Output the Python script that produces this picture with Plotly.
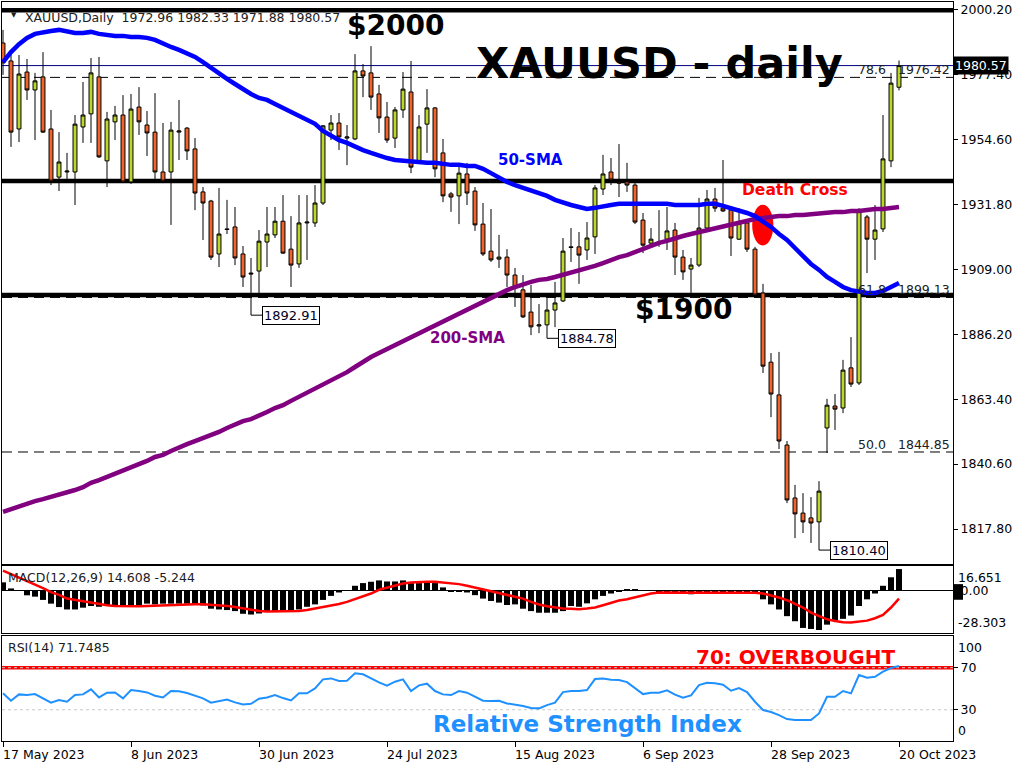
import plotly.graph_objects as go
import pandas as pd
import numpy as np

# ---------------- data ----------------
dates = pd.bdate_range("2023-05-17", "2023-10-20")  # 113 daily sessions
date_tick_idx = [0, 16, 32, 48, 64, 80, 96, 112]

opens = [1988.5, 1982.2, 1958.3, 1978.3, 1972.0, 1976.6, 1958.3, 1941.4, 1943.2, 1943.2,
         1959.0, 1963.6, 1976.6, 1947.1, 1960.8, 1963.2, 1939.7, 1966.0, 1959.7, 1957.2,
         1943.2, 1943.2, 1957.2, 1958.6, 1951.3, 1936.2, 1933.0, 1914.4, 1923.2, 1923.9,
         1914.4, 1907.7, 1908.4, 1918.6, 1921.1, 1925.9, 1916.1, 1910.9, 1925.3, 1925.3,
         1932.3, 1957.9, 1960.4, 1955.1, 1954.8, 1978.7, 1978.0, 1970.6, 1962.5, 1955.1,
         1965.0, 1971.3, 1946.7, 1960.0, 1965.7, 1949.9, 1935.5, 1934.8, 1942.5, 1936.5,
         1924.9, 1915.4, 1912.6, 1913.3, 1907.0, 1901.8, 1894.0, 1889.1, 1889.5, 1894.7,
         1897.9, 1916.9, 1916.9, 1915.8, 1920.4, 1937.2, 1943.2, 1939.7, 1939.7, 1938.6,
         1926.3, 1918.2, 1917.9, 1919.6, 1922.8, 1913.3, 1909.1, 1910.5, 1923.5, 1933.7,
         1930.5, 1929.8, 1919.6, 1925.3, 1916.1, 1900.7, 1876.4, 1864.9, 1847.3, 1828.7,
         1823.4, 1821.7, 1820.3, 1853.3, 1861.0, 1860.3, 1874.4, 1869.1, 1927.4, 1919.6,
         1923.2, 1947.1, 1972.96]
highs = [1993.1, 1984.3, 1984.3, 1982.9, 1978.0, 1985.3, 1965.0, 1957.2, 1949.9, 1963.2,
         1974.8, 1983.2, 1983.6, 1964.3, 1966.4, 1970.2, 1970.6, 1973.0, 1964.6, 1970.9,
         1960.4, 1960.8, 1968.5, 1959.0, 1955.1, 1937.9, 1933.4, 1937.6, 1933.4, 1930.9,
         1917.2, 1913.0, 1922.8, 1930.9, 1930.9, 1935.1, 1927.7, 1935.1, 1935.1, 1938.6,
         1959.7, 1963.2, 1963.9, 1959.7, 1984.6, 1981.1, 1987.4, 1973.8, 1967.8, 1966.0,
         1978.3, 1982.2, 1963.2, 1972.3, 1966.0, 1954.8, 1936.2, 1945.6, 1946.4, 1937.9,
         1932.3, 1930.2, 1921.1, 1916.1, 1909.5, 1907.0, 1903.5, 1896.8, 1898.9, 1904.6,
         1920.0, 1923.5, 1922.1, 1925.6, 1938.6, 1949.2, 1948.1, 1953.0, 1946.4, 1939.3,
         1928.8, 1923.5, 1929.8, 1930.9, 1925.3, 1915.8, 1913.0, 1934.1, 1936.9, 1937.6,
         1947.4, 1930.5, 1930.5, 1926.3, 1916.9, 1903.9, 1879.6, 1880.0, 1848.7, 1833.3,
         1830.4, 1829.0, 1834.6, 1863.5, 1865.2, 1877.2, 1885.2, 1930.5, 1928.1, 1931.6,
         1963.2, 1978.0, 1982.33]
lows = [1977.3, 1952.0, 1953.7, 1968.5, 1954.4, 1956.9, 1938.6, 1936.5, 1939.7, 1931.6,
        1953.4, 1953.4, 1948.1, 1937.9, 1954.4, 1939.3, 1939.0, 1956.2, 1948.8, 1939.7,
        1939.3, 1924.6, 1947.4, 1947.4, 1929.8, 1919.3, 1912.3, 1909.8, 1921.4, 1910.5,
        1902.8, 1892.91, 1900.7, 1909.8, 1920.0, 1914.4, 1902.8, 1909.5, 1912.3, 1923.9,
        1931.6, 1954.4, 1950.9, 1945.6, 1954.4, 1969.5, 1965.0, 1956.9, 1953.4, 1951.6,
        1962.2, 1942.8, 1946.4, 1949.9, 1941.4, 1932.6, 1929.2, 1924.9, 1931.6, 1922.5,
        1913.7, 1911.6, 1909.5, 1902.8, 1895.8, 1891.9, 1885.9, 1886.6, 1884.78, 1888.7,
        1897.5, 1911.6, 1903.9, 1912.3, 1914.4, 1935.1, 1938.6, 1934.4, 1936.2, 1924.9,
        1914.7, 1916.9, 1916.9, 1915.8, 1907.0, 1905.3, 1900.7, 1909.8, 1922.8, 1929.2,
        1929.2, 1913.7, 1919.3, 1915.1, 1899.3, 1872.6, 1857.1, 1845.9, 1826.9, 1814.6,
        1816.4, 1812.9, 1810.40, 1844.5, 1852.6, 1858.5, 1867.7, 1868.4, 1907.7, 1912.3,
        1922.1, 1944.9, 1971.88]
closes = [1981.5, 1957.2, 1977.6, 1972.0, 1975.2, 1957.2, 1940.0, 1946.7, 1943.5, 1960.0,
          1963.2, 1978.0, 1948.5, 1961.8, 1963.2, 1939.7, 1965.3, 1960.8, 1956.9, 1943.2,
          1940.0, 1957.9, 1957.6, 1950.6, 1935.8, 1932.3, 1913.3, 1921.4, 1923.0, 1913.0,
          1906.3, 1907.4, 1918.9, 1921.4, 1925.9, 1914.7, 1910.5, 1925.3, 1925.6, 1932.3,
          1959.4, 1960.4, 1955.5, 1955.5, 1978.7, 1976.9, 1969.5, 1962.2, 1954.4, 1965.0,
          1972.3, 1944.9, 1959.0, 1965.7, 1944.3, 1934.8, 1934.4, 1942.8, 1935.8, 1924.6,
          1914.4, 1912.3, 1913.3, 1907.0, 1902.5, 1892.3, 1888.8, 1889.5, 1894.7, 1897.2,
          1915.4, 1916.7, 1914.0, 1920.0, 1937.6, 1942.5, 1940.4, 1939.3, 1938.6, 1925.6,
          1917.5, 1919.6, 1918.6, 1922.5, 1913.3, 1908.1, 1910.5, 1923.5, 1933.7, 1930.5,
          1929.5, 1920.0, 1925.3, 1916.1, 1900.0, 1875.0, 1865.2, 1848.7, 1828.0, 1823.1,
          1820.3, 1819.9, 1831.1, 1861.3, 1859.9, 1873.6, 1868.7, 1929.8, 1919.6, 1922.8,
          1947.8, 1974.4, 1980.57]

sma50 = [1981.8, 1985.3, 1988.1, 1990.3, 1991.7, 1992.4, 1992.7, 1993.1, 1992.4, 1992.0,
         1992.0, 1992.4, 1991.7, 1991.3, 1991.0, 1991.0, 1990.6, 1990.6, 1990.3, 1989.6,
         1988.2, 1987.1, 1986.1, 1985.0, 1983.6, 1981.8, 1979.7, 1977.6, 1975.9, 1974.1,
         1972.3, 1970.6, 1969.2, 1968.5, 1967.1, 1965.7, 1964.3, 1962.5, 1961.1, 1960.1,
         1957.6, 1955.8, 1954.4, 1953.4, 1952.0, 1950.9, 1949.9, 1948.8, 1948.1, 1947.4,
         1947.1, 1946.7, 1946.7, 1946.4, 1946.4, 1946.0, 1945.7, 1945.7, 1945.3, 1945.3,
         1944.3, 1942.8, 1941.1, 1939.7, 1938.6, 1937.6, 1936.9, 1935.8, 1934.8, 1933.4,
         1932.3, 1931.6, 1930.9, 1930.2, 1930.6, 1931.3, 1931.6, 1932.0, 1932.0, 1932.0,
         1932.3, 1932.3, 1932.3, 1932.0, 1931.6, 1931.6, 1931.6, 1931.6, 1932.0, 1932.0,
         1931.3, 1930.6, 1929.9, 1928.8, 1927.7, 1926.0, 1923.9, 1921.4, 1919.3, 1916.5,
         1913.7, 1910.9, 1908.8, 1906.3, 1904.6, 1902.8, 1901.7, 1901.0, 1900.7, 1900.7,
         1901.4, 1902.8, 1904.2]
sma200 = [1823.8, 1824.8, 1825.9, 1826.6, 1827.6, 1828.3, 1829.0, 1830.1, 1830.8, 1831.5,
          1832.5, 1834.0, 1835.0, 1836.1, 1837.1, 1838.2, 1839.2, 1840.3, 1841.7, 1843.1,
          1843.8, 1845.2, 1846.6, 1847.6, 1848.7, 1849.8, 1850.5, 1851.9, 1853.3, 1854.7,
          1855.7, 1856.4, 1857.5, 1858.9, 1860.3, 1861.3, 1862.8, 1864.2, 1865.6, 1867.0,
          1868.4, 1869.8, 1871.2, 1872.9, 1874.7, 1876.5, 1878.2, 1879.6, 1881.0, 1882.4,
          1883.8, 1884.9, 1886.6, 1888.0, 1889.4, 1890.9, 1892.3, 1893.7, 1895.1, 1896.5,
          1897.9, 1898.9, 1900.3, 1901.7, 1902.8, 1903.9, 1904.6, 1905.3, 1905.6, 1906.3,
          1907.0, 1907.7, 1908.4, 1909.5, 1910.2, 1911.2, 1912.3, 1913.3, 1914.0, 1915.1,
          1916.1, 1917.2, 1918.3, 1919.0, 1920.0, 1920.7, 1921.4, 1922.1, 1922.8, 1923.5,
          1924.2, 1924.9, 1925.6, 1926.3, 1926.7, 1927.0, 1927.4, 1927.7, 1927.7, 1928.1,
          1928.1, 1928.4, 1928.8, 1928.8, 1929.1, 1929.1, 1929.5, 1929.5, 1929.9, 1930.2,
          1930.2, 1930.6, 1930.9]

macd_hist = [5.7, 1.6, 0.0, -3.0, -3.9, -6.1, -8.6, -10.9, -12.5, -12.5,
             -11.3, -10.2, -10.7, -10.2, -10.2, -10.7, -10.2, -9.8, -8.6, -9.1,
             -8.6, -8.6, -8.6, -8.6, -9.1, -9.8, -12.0, -12.5, -12.9, -13.6,
             -15.4, -15.9, -15.2, -13.6, -13.6, -13.6, -13.6, -12.5, -10.7, -9.1,
             -6.1, -3.4, -1.1, 0.3, 3.4, 5.2, 6.1, 7.0, 6.3, 6.3,
             7.0, 5.2, 5.2, 5.7, 5.2, 2.3, -0.3, -0.3, -1.1, -2.9,
             -5.2, -6.8, -7.9, -9.5, -9.1, -12.0, -13.6, -14.7, -14.7, -14.7,
             -13.6, -10.2, -10.7, -8.4, -5.7, -3.4, -1.8, -0.7, 1.1, 1.1,
             0.3, 0.3, -0.3, -0.5, -1.6, -1.6, -2.3, -1.1, -0.7, -0.3,
             -0.3, -0.5, -0.5, -0.7, -1.1, -5.7, -9.1, -12.5, -17.0, -20.4,
             -24.9, -25.6, -26.3, -22.7, -19.7, -18.8, -16.6, -10.2, -5.7, -1.8,
             3.4, 9.1, 14.608]
macd_signal = [13.5, 11.2, 9.0, 6.5, 4.0, 1.8, -0.9, -2.7, -5.2, -6.1,
               -7.2, -8.1, -9.0, -9.7, -10.1, -10.3, -10.6, -10.3, -10.1, -9.9,
               -9.7, -9.2, -9.0, -9.0, -9.0, -9.0, -9.2, -9.4, -10.1, -10.8,
               -11.7, -12.8, -13.5, -13.9, -13.9, -13.9, -13.9, -13.5, -12.8, -11.9,
               -11.0, -9.9, -8.8, -7.4, -5.6, -3.8, -1.8, 0.7, 2.2, 3.8,
               4.9, 5.6, 6.1, 6.1, 6.1, 5.6, 5.2, 4.5, 3.4, 2.2,
               1.1, -0.2, -1.3, -2.7, -3.8, -5.2, -7.4, -9.2, -10.3, -11.2,
               -11.9, -12.1, -12.4, -11.9, -11.2, -9.7, -7.9, -6.5, -5.6, -4.3,
               -2.7, -1.8, -1.1, -1.1, -1.1, -1.1, -1.1, -1.1, -1.1, -1.1,
               -1.1, -1.1, -1.1, -1.1, -1.3, -1.8, -2.9, -4.5, -6.3, -8.5,
               -11.2, -14.6, -16.8, -19.1, -20.2, -21.1, -21.3, -20.9, -20.0, -18.4,
               -16.2, -11.2, -5.244]
macd_range = [-28.303, 16.651]

rsi = [45.6, 38.6, 44.6, 44.0, 44.9, 40.8, 36.7, 39.2, 37.6, 44.0,
       44.6, 49.4, 41.7, 46.2, 46.5, 40.8, 48.7, 47.8, 46.5, 43.3,
       41.7, 47.8, 47.5, 45.9, 43.0, 40.8, 36.7, 37.9, 39.8, 37.0,
       35.1, 35.7, 40.5, 41.7, 44.0, 41.1, 38.9, 45.6, 45.6, 50.3,
       58.9, 59.8, 57.3, 57.6, 64.6, 63.7, 59.8, 56.0, 52.9, 56.7,
       58.9, 47.8, 53.2, 54.8, 47.8, 44.6, 44.0, 47.8, 46.2, 42.7,
       38.6, 38.3, 38.6, 36.0, 35.1, 33.5, 31.6, 31.3, 34.4, 36.7,
       46.8, 47.8, 47.8, 48.7, 59.2, 59.8, 58.6, 58.3, 56.3, 50.6,
       44.9, 46.2, 46.2, 48.4, 44.3, 41.4, 43.6, 53.5, 55.7, 55.1,
       53.8, 48.1, 50.6, 46.8, 37.6, 29.7, 27.8, 24.9, 21.1, 20.2,
       20.2, 20.2, 26.5, 42.4, 42.4, 47.8, 45.6, 63.0, 60.5, 61.4,
       66.2, 69.7, 71.7485]
rsi_levels = [70, 30]

h_levels = [2000.0, 1940.0, 1900.0]
fib_names = ["78.6", "61.8", "50.0"]
fib_levels = [1976.42, 1899.13, 1844.85]
price_ticks = [2000.20, 1977.40, 1954.60, 1931.80, 1909.00, 1886.20, 1863.40, 1840.60, 1817.80]
low_windows = [(20, 45), (55, 80), (90, 113)]

# ---------------- styling ----------------
BULL = "#BCD62B"
BEAR = "#F2632A"
FONT = "DejaVu Sans"
x = list(range(len(dates)))
XR = [-0.125, 118.75]

fig = go.Figure()

fig.add_trace(go.Candlestick(
    x=x, open=opens, high=highs, low=lows, close=closes,
    increasing=dict(fillcolor=BULL, line=dict(color="black", width=1)),
    decreasing=dict(fillcolor=BEAR, line=dict(color="black", width=1)),
    whiskerwidth=0, xaxis="x", yaxis="y", hoverinfo="skip", showlegend=False))
fig.add_trace(go.Scatter(x=x, y=sma200, mode="lines", line=dict(color="#800080", width=4.5),
                         xaxis="x", yaxis="y", hoverinfo="skip"))
fig.add_trace(go.Scatter(x=x, y=sma50, mode="lines", line=dict(color="#0000FF", width=4.5),
                         xaxis="x", yaxis="y", hoverinfo="skip"))

fig.add_trace(go.Bar(x=x, y=macd_hist, width=0.75, marker=dict(color="black", line=dict(width=0)),
                     xaxis="x2", yaxis="y2", hoverinfo="skip"))
fig.add_trace(go.Scatter(x=x, y=macd_signal, mode="lines", line=dict(color="#FF0000", width=2.5),
                         xaxis="x2", yaxis="y2", hoverinfo="skip"))

fig.add_trace(go.Scatter(x=x, y=rsi, mode="lines", line=dict(color="#1E90FF", width=2),
                         xaxis="x3", yaxis="y3", hoverinfo="skip"))

axis_common = dict(showgrid=False, showline=True, mirror=True, linecolor="black", linewidth=1,
                   zeroline=False)

fig.update_layout(
    width=1024, height=768, margin=dict(l=2, r=71, t=2, b=26),
    paper_bgcolor="white", plot_bgcolor="white", showlegend=False,
    font=dict(family=FONT, size=12.5, color="black"),
    barmode="overlay",
    xaxis=dict(domain=[0, 1], anchor="y", range=XR, showticklabels=False, ticks="",
               rangeslider=dict(visible=False), **axis_common),
    xaxis2=dict(domain=[0, 1], anchor="y2", range=XR, matches="x", showticklabels=False, ticks="",
                **axis_common),
    xaxis3=dict(domain=[0, 1], anchor="y3", range=XR, matches="x", showticklabels=False,
                ticks="outside", ticklen=5, tickcolor="black", tickvals=date_tick_idx, **axis_common),
    yaxis=dict(domain=[0.2405, 1.0], anchor="x", range=[1805.5, 2002.9], side="right",
               tickvals=price_ticks, ticktext=[f"{v:.2f}" for v in price_ticks],
               ticks="outside", ticklen=4, tickcolor="black", **axis_common),
    yaxis2=dict(domain=[0.1473, 0.2378], anchor="x2", range=macd_range, side="right",
                tickvals=[0], ticktext=["0.00"], ticks="outside", ticklen=4, tickcolor="black",
                showgrid=False, showline=True, mirror=True, linecolor="black", linewidth=1,
                zeroline=True, zerolinecolor="black", zerolinewidth=1),
    yaxis3=dict(domain=[0.001, 0.143], anchor="x3", range=[0, 100], side="right",
                tickvals=rsi_levels, ticktext=[str(v) for v in rsi_levels],
                ticks="outside", ticklen=4, tickcolor="black", **axis_common),
)

shapes = []
# horizontal support/resistance lines
for lv in h_levels:
    shapes.append(dict(type="line", xref="x domain", yref="y", x0=0, x1=1, y0=lv, y1=lv,
                       line=dict(color="black", width=4.5), layer="below"))
# fibonacci dashed levels
for lv in fib_levels:
    shapes.append(dict(type="line", xref="x domain", yref="y", x0=0, x1=1, y0=lv, y1=lv,
                       line=dict(color="black", width=1, dash="10px,6px"), layer="below"))
# current price line
shapes.append(dict(type="line", xref="x domain", yref="y", x0=0, x1=1, y0=closes[-1], y1=closes[-1],
                   line=dict(color="#000080", width=1), layer="below"))
# death cross marker
diff = np.array(sma50) - np.array(sma200)
ic = int(np.where((diff[:-1] > 0) & (diff[1:] <= 0))[0][-1])
yc = (sma50[ic] + sma200[ic]) / 2
shapes.append(dict(type="circle", xref="x", yref="y", x0=ic - 0.35, x1=ic + 2.3,
                   y0=yc - 9.8, y1=yc + 4.5, fillcolor="#FF0000", line=dict(width=0), layer="below"))
# RSI levels
shapes.append(dict(type="line", xref="x3 domain", yref="y3", x0=0, x1=1, y0=70, y1=70,
                   line=dict(color="#FF0000", width=3.5), layer="below"))
for lv in rsi_levels:
    shapes.append(dict(type="line", xref="x3 domain", yref="y3", x0=0, x1=1, y0=lv, y1=lv,
                       line=dict(color="#C8C8C8", width=1, dash="3px,3px"), layer="below"))
# low markers connectors
ann = []
for a, b in low_windows:
    k = int(np.argmin(lows[a:b])) + a
    shapes.append(dict(type="line", xref="x", yref="y", x0=k, x1=k + 1.4, y0=lows[k], y1=lows[k],
                       line=dict(color="black", width=1), layer="above"))
    ann.append(dict(x=k + 1.4, y=lows[k], xref="x", yref="y", xanchor="left", yanchor="middle",
                    text=f"{lows[k]:.2f}", showarrow=False, bgcolor="white", bordercolor="black",
                    borderwidth=1, borderpad=1, font=dict(size=13, color="#000020")))
# small black marker on MACD axis
shapes.append(dict(type="rect", xref="paper", yref="y2", x0=1.0, x1=1.0105, y0=-6.0, y1=4.5,
                   fillcolor="black", line=dict(width=0), layer="above"))
fig.update_layout(shapes=shapes)

# fibonacci labels
for nm, lv in zip(fib_names, fib_levels):
    ann.append(dict(x=110.6, y=lv, xref="x", yref="y", xanchor="right", yanchor="bottom",
                    text=nm, showarrow=False, font=dict(size=12.5, color="#202020"), yshift=-2))
    ann.append(dict(x=118.6, y=lv, xref="x", yref="y", xanchor="right", yanchor="bottom",
                    text=f"{lv:.2f}", showarrow=False, font=dict(size=12.5, color="#202020"), yshift=-2))

# current price box
ann.append(dict(x=1.0, y=closes[-1], xref="paper", yref="y", xanchor="left", yanchor="middle",
                text=f"{closes[-1]:.2f}", showarrow=False, bgcolor="black", borderpad=1,
                font=dict(size=12.5, color="white")))

# headline texts
def bold(txt, x_, y_, size, color, yref="y", xref="x"):
    return dict(x=x_, y=y_, xref=xref, yref=yref, text=f"<b>{txt}</b>", showarrow=False,
                xanchor="center", yanchor="middle", font=dict(family=FONT, size=size, color=color))

ann.append(bold("XAUUSD - daily", 82.1, 1981.5, 43, "black"))
ann.append(bold("$2000", 49.0, 1994.5, 28, "black"))
ann.append(bold("$1900", 85.0, 1895.0, 28, "black"))
ann.append(bold("50-SMA", 65.9, 1947.4, 15, "#0000FF"))
ann.append(bold("200-SMA", 58.0, 1884.9, 15, "#800080"))
ann.append(bold("Death Cross", 99.0, 1936.9, 15.5, "#FF0000"))
ann.append(bold("70: OVERBOUGHT", 99.0, 80.2, 20, "#FF0000", yref="y3"))
ann.append(bold("Relative Strength Index", 73.0, 16.4, 23, "#1E90FF", yref="y3"))

# info labels
ann.append(dict(x=0.0, y=1.0, xref="paper", yref="paper", xanchor="left", yanchor="top",
                xshift=7, yshift=-7, text="▼", showarrow=False, font=dict(size=7, color="#202020")))
ann.append(dict(x=0.0, y=1.0, xref="paper", yref="paper", xanchor="left", yanchor="top",
                xshift=21, yshift=-6,
                text=f"XAUUSD,Daily  {opens[-1]:.2f} {highs[-1]:.2f} {lows[-1]:.2f} {closes[-1]:.2f}",
                showarrow=False, font=dict(size=12.5, color="#202020")))
ann.append(dict(x=0.0, y=1.0, xref="paper", yref="y2 domain", xanchor="left", yanchor="top",
                xshift=4, yshift=-2,
                text=f"MACD(12,26,9) {macd_hist[-1]:.3f} {macd_signal[-1]:.3f}",
                showarrow=False, font=dict(size=12.5, color="#202020")))
ann.append(dict(x=0.0, y=1.0, xref="paper", yref="y3 domain", xanchor="left", yanchor="top",
                xshift=4, yshift=-2, text=f"RSI(14) {rsi[-1]:.4f}",
                showarrow=False, font=dict(size=12.5, color="#202020")))

# right-axis extreme labels
ann.append(dict(x=1.0, y=macd_range[1], xref="paper", yref="y2", xanchor="left", yanchor="top",
                xshift=3, yshift=-2, text=f"{macd_range[1]:.3f}", showarrow=False))
ann.append(dict(x=1.0, y=macd_range[0], xref="paper", yref="y2", xanchor="left", yanchor="bottom",
                xshift=3, yshift=1, text=f"{macd_range[0]:.3f}", showarrow=False))
ann.append(dict(x=1.0, y=100, xref="paper", yref="y3", xanchor="left", yanchor="top",
                xshift=3, yshift=-2, text="100", showarrow=False))
ann.append(dict(x=1.0, y=0, xref="paper", yref="y3", xanchor="left", yanchor="bottom",
                xshift=3, yshift=1, text="0", showarrow=False))

# date labels (left-aligned at the tick)
for i in date_tick_idx:
    ann.append(dict(x=i, y=0, xref="x3", yref="paper", xanchor="left", yanchor="top",
                    yshift=-3, xshift=-2, text=dates[i].strftime("%-d %b %Y"), showarrow=False,
                    font=dict(size=12.5, color="black")))

fig.update_layout(annotations=ann)
fig.write_html("out.html", config={"displayModeBar": False},
               post_script="document.body.style.margin='0px';")
